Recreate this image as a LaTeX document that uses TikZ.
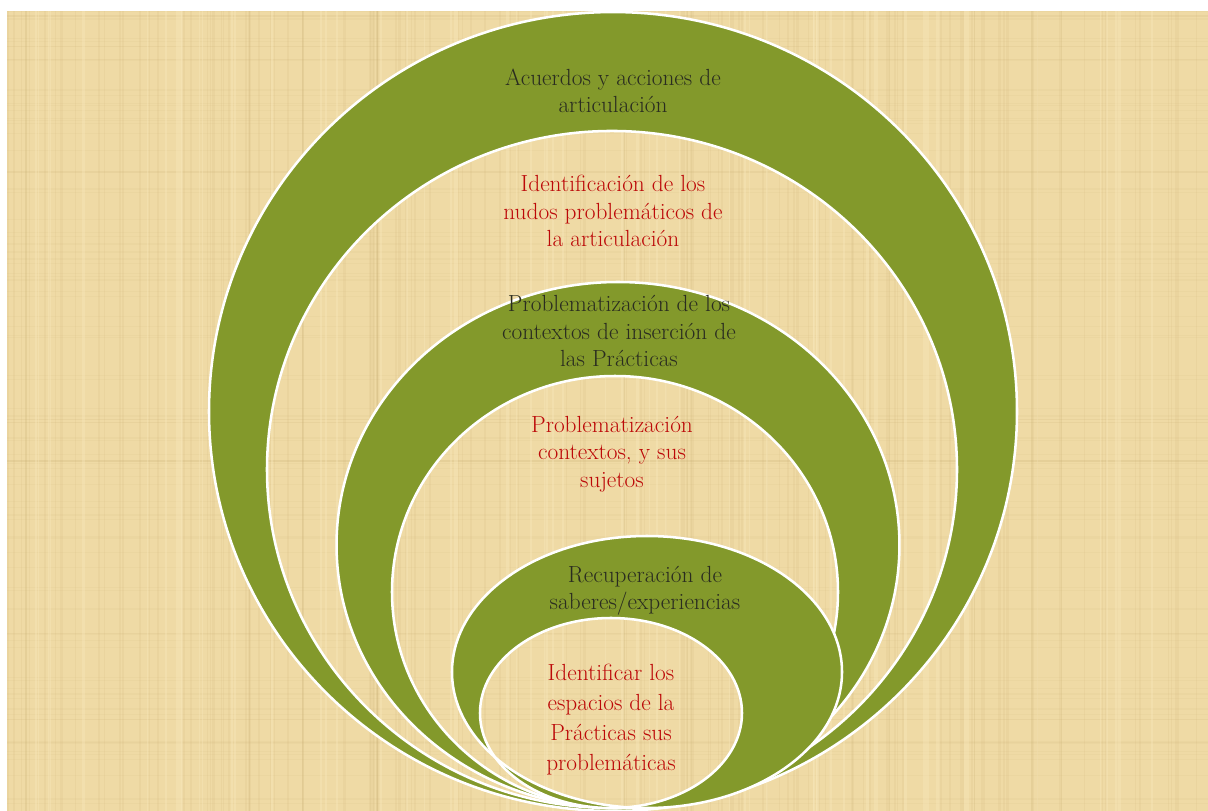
\documentclass[tikz,border=0pt]{standalone}
\usetikzlibrary{calc}
\definecolor{papyrus}{RGB}{239,218,165}
\definecolor{papyrusdark}{RGB}{200,172,112}
\definecolor{papyruslight}{RGB}{250,234,190}
\definecolor{olive}{RGB}{131,153,43}
\definecolor{darktext}{RGB}{42,44,32}
\definecolor{redtext}{RGB}{188,8,8}
\begin{document}
\begin{tikzpicture}[x=0.75pt,y=-0.75pt,
  ring/.style={fill=olive,even odd rule},
  rim/.style={draw=white,line width=1.9pt},
  lbl/.style={align=center,inner sep=0pt,font=\fontsize{17.5}{20.5}\selectfont},
  lbldark/.style={lbl,text=darktext},
  lblred/.style={lbl,text=redtext}]
\useasboundingbox (0,0) rectangle (1208,811);
% papyrus background
\fill[papyrus] (7,11) rectangle (1208,811);
\begin{scope}
\clip (7,11) rectangle (1208,811);
\pgfmathsetseed{11}
\foreach \i in {1,...,140}{
  \pgfmathsetmacro\xx{7+1201*rnd}
  \pgfmathsetmacro\ww{0.4+1.6*rnd}
  \draw[papyrusdark,opacity=0.12,line width=\ww pt] (\xx,11) -- (\xx,811);
}
\foreach \i in {1,...,100}{
  \pgfmathsetmacro\yy{11+800*rnd}
  \pgfmathsetmacro\ww{0.3+1.0*rnd}
  \draw[papyrusdark,opacity=0.08,line width=\ww pt] (7,\yy) -- (1208,\yy);
}
\foreach \i in {1,...,60}{
  \pgfmathsetmacro\xx{7+1201*rnd}
  \pgfmathsetmacro\ww{0.5+2*rnd}
  \draw[papyruslight,opacity=0.35,line width=\ww pt] (\xx,11) -- (\xx,811);
}
\end{scope}
% ring 1
\fill[ring] (613,411.5) ellipse [x radius=303pt,y radius=299.6pt]
            (612,469.5) ellipse [x radius=258.75pt,y radius=253.9pt];
\draw[rim] (613,411.5) ellipse [x radius=303pt,y radius=299.6pt];
\draw[rim] (612,469.5) ellipse [x radius=258.75pt,y radius=253.9pt];
% ring 2
\fill[ring] (618,545) ellipse [x radius=211.1pt,y radius=197.25pt]
            (615,592) ellipse [x radius=167.25pt,y radius=162pt];
\draw[rim] (618,545) ellipse [x radius=211.1pt,y radius=197.25pt];
\draw[rim] (615,592) ellipse [x radius=167.25pt,y radius=162pt];
% ring 3
\fill[ring] (647,672) ellipse [x radius=146.25pt,y radius=102pt]
            (611,713) ellipse [x radius=98.25pt,y radius=71.25pt];
\draw[rim] (647,672) ellipse [x radius=146.25pt,y radius=102pt];
\draw[rim] (611,713) ellipse [x radius=98.25pt,y radius=71.25pt];
% labels
\node[lbldark] (t1) at (613,91) {Acuerdos y acciones de\\articulación};
\node[lblred]  (t2) at (613,211) {Identificación de los\\nudos problemáticos de\\la articulación};
\node[lbldark] (t3) at (619,331) {Problematización de los\\contextos de inserción de\\las Prácticas};
\node[lblred]  (t4) at (612,454) {Problematización\\contextos, y sus\\sujetos};
\node[lbldark] (t5) at (645,591) {Recuperación de\\saberes/experiencias};
\node[lblred,font=\fontsize{17.5}{22.5}\selectfont] (t6) at (611,720) {Identificar los\\espacios de la\\Prácticas sus\\problemáticas};
\end{tikzpicture}
\end{document}
